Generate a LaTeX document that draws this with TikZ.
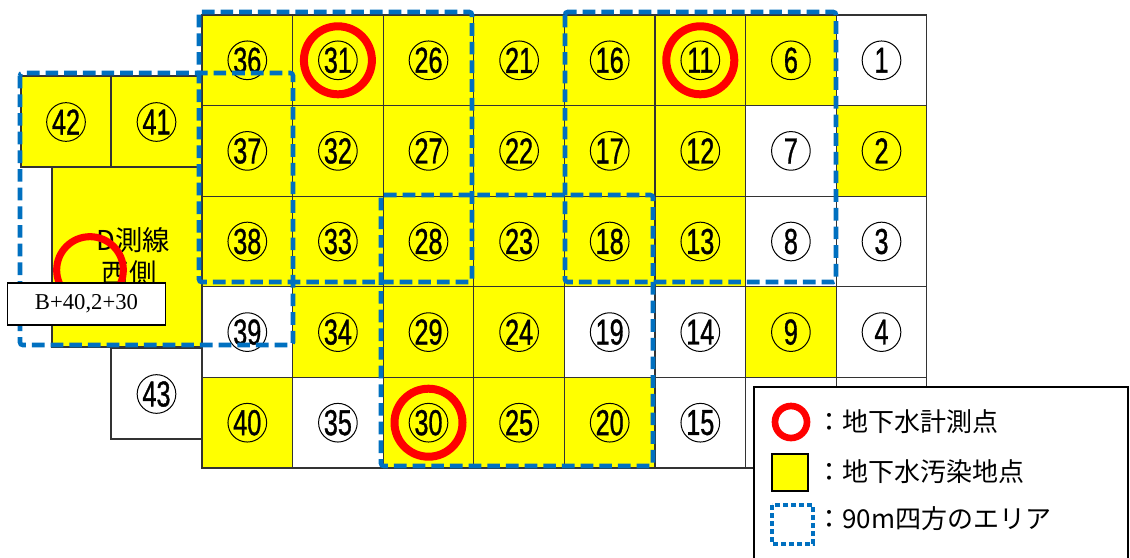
\documentclass[tikz,border=0pt]{standalone}
\usepackage{fontspec}
\setmainfont{Liberation Serif}
\newfontfamily\jpfont{Noto Sans CJK JP}
\newfontfamily\numfont[FakeBold=1.2]{Liberation Sans}
\definecolor{cyel}{HTML}{FFFF00}
\definecolor{cblue}{HTML}{0070C0}
\definecolor{cred}{HTML}{FF0000}
\definecolor{cline}{HTML}{333333}
\tikzset{
  cellbox/.style={draw=cline, line width=0.8pt},
  cnum/.style={circle, draw=black, line width=0.75pt, minimum size=29pt, inner sep=0pt,
    font=\numfont\fontsize{27}{27}\selectfont},
  redring/.style={draw=cred, line width=6pt},
  area/.style={draw=cblue, line width=3.4pt, dash pattern=on 9.5pt off 4.5pt, rounded corners=2pt},
  jptext/.style={font=\jpfont\fontsize{19.5}{20}\selectfont, inner sep=0pt, anchor=west},
}
\newcommand{\sq}[1]{\scalebox{0.7}[1]{#1}}
\begin{document}
\begin{tikzpicture}[x=0.75pt,y=-0.75pt]
\useasboundingbox (0,0) rectangle (1130,557);
\fill[white] (0,0) rectangle (1130,557);
% main grid fill
\fill[cyel] (202,15) rectangle (927,468);
\foreach \c/\r in {7/0,6/1,6/2,7/2,0/3,4/3,5/3,7/3,1/4,5/4,6/4,7/4}{
  \fill[white] ({202+\c*90.6},{15+\r*90.6}) rectangle ({202+(\c+1)*90.6},{15+(\r+1)*90.6});
}
\foreach \c in {0,...,7}{
  \foreach \r in {0,...,4}{
    \draw[cellbox] ({202+\c*90.6},{15+\r*90.6}) rectangle ({202+(\c+1)*90.6},{15+(\r+1)*90.6});
  }
}
% left cells
\filldraw[cellbox, fill=cyel] (21,76) rectangle (111,167);
\filldraw[cellbox, fill=cyel] (111,76) rectangle (202,167);
\filldraw[cellbox, fill=cyel] (52,167) rectangle (202,347);
\filldraw[cellbox, fill=white] (111,348) rectangle (202,439);
% numbers in main grid (cells 10 and 5 are hidden by the legend)
\foreach \c in {0,...,7}{
  \foreach \r in {0,...,4}{
    \pgfmathtruncatemacro\n{36-5*\c+\r}
    \ifnum\n=10\relax\else\ifnum\n=5\relax\else
      \node[cnum] (n\n) at ({202+(\c+0.5)*90.6},{15+(\r+0.5)*90.6}) {\sq{\n}};
    \fi\fi
  }
}
\node[cnum] (n42) at (66,122) {\sq{42}};
\node[cnum] (n41) at (156.5,122) {\sq{41}};
\node[cnum] (n43) at (156.5,394) {\sq{43}};
% D line west text
\node[font=\jpfont\fontsize{20.5}{20}\selectfont, inner sep=0pt] (dline1) at (133,240) {D測線};
\node[font=\jpfont\fontsize{20.5}{20}\selectfont, inner sep=0pt] (dline2) at (129,273) {西側};
% red rings
\draw[redring] (n31.center) circle[radius=25.5pt];
\draw[redring] (n11.center) circle[radius=25.5pt];
\draw[redring] (n30.center) circle[radius=25.5pt];
\draw[draw=cred, line width=5.3pt] (90,270) circle[radius=25pt];
% 90 m areas
\draw[area] (20,73) rectangle (293,345);
\draw[area] (199,12) rectangle (472,282);
\draw[area] (565,12) rectangle (836,282);
\draw[area] (381,195) rectangle (653,466);
% label box
\node[draw=black, fill=white, line width=0.8pt, minimum width=119pt, minimum height=31.5pt,
  inner sep=0pt, font=\fontsize{17}{17}\selectfont] (lbl) at (86.5,304) {B+40,2+30};
% legend
\filldraw[draw=black, fill=white, line width=0.8pt] (754,600) -- (754,387) -- (1128,387) -- (1128,600);
\draw[draw=cred, line width=5pt] (791,422) circle[radius=12pt];
\filldraw[draw=black, fill=cyel, line width=1.1pt] (772,454) rectangle (808,491);
\draw[draw=cblue, line width=3pt, dash pattern=on 3.5pt off 2.5pt] (772,505) rectangle (813,544);
\node[jptext] (leg1) at (816,422) {：地下水計測点};
\node[jptext] (leg2) at (816,472) {：地下水汚染地点};
\node[jptext] (leg3) at (816,519) {：90m四方のエリア};
\end{tikzpicture}
\end{document}
